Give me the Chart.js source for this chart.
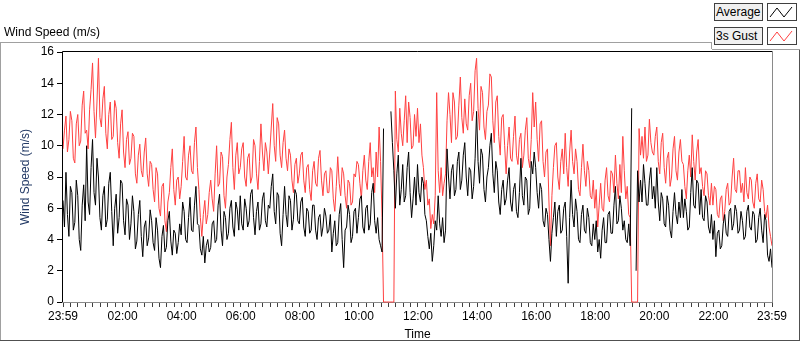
<!DOCTYPE html>
<html>
<head>
<meta charset="utf-8">
<script src="https://cdn.jsdelivr.net/npm/chart.js@4.4.0/dist/chart.umd.min.js"></script>
<style>
  body { margin: 0; background: #fff; }
  #wrap { position: relative; width: 800px; height: 342px; font-family: "Liberation Sans", Arial, sans-serif; font-size: 12px; color: #000; }
  #c { position: absolute; left: 0; top: 0; }
  .title { position: absolute; left: 4px; top: 25px; }
  .lbox { position: absolute; left: 714px; width: 46px; height: 16px; border: 1px solid #404040; background: #f0f0f0; line-height: 16px; padding-left: 1px; }
  .swatch { position: absolute; left: 767px; width: 28px; height: 16px; border: 1px solid #404040; background: #fff; }
  .swatch svg { display: block; }
</style>
</head>
<body>
<div id="wrap">
  <canvas id="c" width="800" height="342"></canvas>
  <div class="title">Wind Speed (m/s)</div>
  <div class="lbox" style="top:3px">Average</div>
  <div class="swatch" style="top:3px"><svg width="28" height="16"><polyline points="2,13 9,4 16,13 24,3" fill="none" stroke="#000" stroke-width="1"/></svg></div>
  <div class="lbox" style="top:27px">3s Gust</div>
  <div class="swatch" style="top:27px"><svg width="28" height="16"><polyline points="2,13 9,4 16,13 24,3" fill="none" stroke="#ff4040" stroke-width="1"/></svg></div>
</div>
<script>
// tick labels (time axis, minutes since 23:59 the day before)
const tickMinutes = [0, 121, 241, 361, 481, 601, 721, 841, 961, 1081, 1201, 1321, 1440];
const tickLabels = ['23:59', '02:00', '04:00', '06:00', '08:00', '10:00', '12:00', '14:00', '16:00', '18:00', '20:00', '22:00', '23:59'];
const stepMin = 3; // one sample every 3 minutes, one row = one hour

// average wind speed (m/s)
const average = [
  6.5, 4.8, 8.3, 5.6, 4.2, 7.4, 7.0, 4.6, 5.1, 7.8, 6.8, 4.0, 3.3, 6.2, 7.5, 5.2, 10.0, 6.4, 5.6, 8.6,
  10.4, 7.0, 6.2, 9.2, 8.0, 5.4, 4.6, 6.8, 7.4, 4.8, 5.3, 7.6, 8.3, 5.8, 3.6, 6.0, 6.9, 4.4, 5.4, 7.8,
  7.6, 5.2, 4.3, 6.6, 6.2, 4.0, 5.0, 6.8, 5.8, 3.4, 3.9, 5.6, 6.5, 4.2, 2.9, 4.8, 5.2, 3.6, 4.1, 5.9,
  5.2, 3.8, 3.3, 5.4, 4.6, 2.8, 2.2, 4.2, 4.9, 3.2, 3.5, 5.2, 5.8, 3.9, 3.0, 4.6, 4.4, 3.1, 3.8, 5.0,
  4.3, 6.4, 5.8, 4.0, 3.8, 5.4, 6.7, 4.6, 4.5, 6.2, 7.4, 5.0, 4.9, 3.4, 3.0, 4.2, 2.5, 3.6, 4.0, 3.2,
  3.5, 5.0, 5.2, 3.8, 4.0, 6.2, 6.9, 4.6, 3.6, 5.8, 5.4, 4.0, 4.4, 6.0, 6.5, 4.8, 4.2, 6.4, 5.9, 4.6,
  6.8, 5.0, 4.6, 6.6, 6.0, 4.8, 5.2, 6.9, 7.2, 5.4, 4.3, 5.8, 6.4, 4.6, 5.0, 6.6, 7.0, 5.2, 4.8, 6.2,
  6.0, 7.4, 8.2, 5.8, 5.0, 7.0, 6.8, 4.4, 3.6, 5.6, 7.4, 5.6, 4.8, 6.8, 6.5, 4.6, 5.3, 7.2, 6.9, 5.2,
  5.0, 6.4, 6.7, 4.8, 4.2, 6.0, 5.8, 4.4, 4.6, 6.2, 6.2, 4.6, 4.0, 5.4, 5.6, 4.2, 4.8, 6.0, 5.5, 4.4,
  4.6, 5.6, 3.2, 4.4, 5.2, 3.6, 3.8, 5.6, 6.3, 4.0, 2.2, 4.6, 4.8, 6.2, 5.6, 3.8, 4.2, 5.8, 6.0, 4.4,
  5.4, 6.6, 6.8, 4.8, 4.4, 6.0, 6.2, 4.6, 5.0, 7.0, 7.6, 5.2, 4.4, 5.4, 4.0, 3.6, 3.2, 11.1, null, null,
  null, null, 12.2, 10.2, 8.4, 6.0, 8.2, 9.4, 6.2, 7.2, 8.8, 6.4, 6.8, 8.6, 9.6, 7.0, 5.4, 6.6, 8.0, 6.2,
  8.8, 7.0, 6.4, 8.0, 7.6, 5.6, 5.2, 4.2, 3.4, 4.4, 2.6, 3.6, 5.2, 4.6, 6.8, 5.0, 4.2, 5.4, 3.8, 4.6,
  9.8, 8.0, 6.6, 8.4, 8.8, 6.8, 7.2, 9.0, 9.6, 7.2, 7.8, 9.4, 10.2, 8.0, 6.8, 8.6, 8.4, 6.6, 7.4, 9.2,
  12.2, 9.0, 7.6, 9.8, 9.4, 7.2, 6.4, 8.0, 8.6, 10.0, 10.8, 8.2, 7.0, 9.0, 8.4, 6.4, 5.6, 7.2, 7.8, 6.2,
  6.6, 7.8, 8.6, 6.4, 5.8, 7.2, 7.6, 5.8, 5.4, 7.0, 9.2, 6.8, 6.2, 8.0, 7.8, 5.6, 6.0, 9.0, 8.2, 9.6,
  8.6, 7.0, 6.0, 7.6, 7.2, 5.2, 4.8, 6.0, 5.6, 4.0, 2.6, 4.4, 5.4, 6.4, 4.2, 5.8, 6.2, 4.4, 4.6, 6.0,
  6.4, 4.2, 1.2, 5.4, 7.8, 5.6, 4.8, 6.6, 5.8, 4.0, 3.8, 5.6, 6.2, 4.6, 4.4, 6.0, 5.4, 3.8, 3.6, 5.0,
  4.0, 5.2, 3.2, 4.0, 2.8, 4.6, 5.4, 3.8, 3.8, 5.6, 5.8, 4.4, 4.4, 6.2, 7.4, 5.0, 5.2, 6.8, 6.0, 4.6,
  5.2, 4.0, 3.8, 5.0, 3.6, 12.4, null, null, 2.0, 8.4, 6.4, 7.8, 6.4, 8.8, 7.6, 6.2, 6.2, 7.8, 8.6, 6.6,
  7.4, 6.0, 8.6, 6.4, 5.2, 7.0, 6.6, 5.0, 4.8, 6.8, 6.2, 4.6, 4.1, 5.8, 7.0, 5.6, 5.0, 6.4, 5.4, 7.2,
  5.4, 6.6, 5.8, 4.6, 4.8, 7.0, 8.6, 6.2, 6.0, 7.8, 7.6, 5.6, 7.2, 5.4, 5.2, 6.8, 6.4, 4.8, 4.4, 5.6,
  4.0, 5.2, 2.9, 4.4, 4.6, 3.4, 3.6, 5.0, 5.6, 4.4, 4.2, 5.8, 6.0, 4.6, 5.0, 6.2, 5.8, 4.4, 4.6, 5.8,
  5.2, 4.0, 4.2, 5.8, 6.2, 4.8, 4.6, 5.8, 5.6, 3.8, 4.0, 5.4, 6.0, 4.6, 3.8, 5.6, 5.2, 3.0, 2.6, 3.4,
  2.2
];

// 3 second gust (m/s), 0 where the logger dropped out
const gust = [
  9.8, 11.0, 11.9, 9.6, 10.4, 12.2, 11.6, 9.2, 8.9, 11.4, 12.0, 10.0, 10.3, 12.6, 13.5, 10.8, 11.0, 9.8, 12.3, 13.6,
  15.3, 12.2, 10.5, 12.8, 15.6, 11.8, 11.2, 13.0, 13.8, 10.8, 9.8, 12.0, 12.8, 10.4, 10.6, 12.9, 12.4, 10.2, 9.2, 11.4,
  12.3, 9.6, 8.6, 10.4, 10.9, 8.8, 9.2, 10.8, 10.6, 8.2, 7.6, 9.4, 10.1, 8.4, 8.0, 9.6, 10.5, 8.2, 7.4, 9.0,
  8.8, 7.2, 6.4, 8.6, 8.2, 6.0, 5.5, 7.4, 7.6, 5.2, 4.5, 6.4, 7.0, 8.6, 9.8, 7.2, 6.2, 7.8, 8.0, 6.6,
  7.4, 9.0, 10.6, 8.0, 7.8, 9.4, 10.0, 8.4, 8.2, 10.2, 11.2, 8.6, 7.2, 5.4, 4.2, 5.6, 6.5, 5.0, 5.6, 7.0,
  7.8, 6.6, 5.8, 8.2, 10.0, 7.4, 7.6, 9.6, 9.3, 6.8, 6.0, 8.0, 8.8, 10.4, 11.5, 8.6, 7.2, 9.4, 10.2, 8.2,
  8.6, 9.8, 10.2, 8.0, 7.4, 9.2, 9.5, 7.6, 8.0, 10.4, 10.0, 8.2, 7.2, 9.0, 11.4, 9.6, 8.4, 10.2, 9.6, 8.2,
  9.6, 11.2, 12.7, 10.0, 9.0, 11.8, 11.4, 9.4, 8.6, 10.2, 11.0, 9.2, 8.4, 9.8, 9.4, 7.8, 7.0, 8.8, 9.2, 7.6,
  8.2, 9.4, 9.6, 7.8, 7.0, 8.6, 8.8, 7.2, 6.5, 8.4, 9.0, 7.6, 7.4, 9.2, 9.7, 7.8, 6.8, 8.2, 8.4, 7.0,
  7.0, 8.6, 8.4, 6.6, 5.8, 7.4, 9.3, 7.6, 6.8, 8.6, 8.2, 6.8, 6.0, 7.8, 7.6, 6.2, 6.4, 8.2, 8.0, 9.0,
  8.8, 7.6, 6.6, 8.4, 9.4, 7.8, 7.2, 9.0, 10.2, 8.0, 8.6, 7.0, 9.6, 8.0, 11.2, 9.0, 5.4, 0, 0, 0,
  0, 0, 0, 0, 0, 13.5, 10.4, 9.6, 12.4, 10.8, 10.0, 11.6, 13.2, 10.2, 12.8, 11.8, 9.8, 10.0, 12.0, 10.6,
  12.4, 10.2, 11.4, 9.4, 8.6, 7.2, 7.8, 6.2, 6.6, 4.7, 5.6, 5.0, 6.8, 13.4, 8.4, 7.0, 8.6, 6.8, 7.6, 8.2,
  11.6, 13.4, 12.0, 10.2, 13.4, 12.8, 10.4, 10.6, 12.6, 14.4, 11.8, 10.8, 13.0, 11.4, 11.0, 13.2, 14.0, 11.6, 12.2, 14.8,
  15.6, 12.4, 11.0, 13.8, 13.4, 11.2, 10.4, 12.2, 12.6, 14.6, 14.4, 11.6, 10.2, 12.8, 13.2, 10.6, 9.4, 11.8, 12.0, 10.0,
  8.2, 10.0, 11.2, 9.2, 9.0, 10.6, 11.9, 9.4, 8.8, 10.4, 10.8, 8.6, 9.4, 11.0, 11.8, 9.2, 8.6, 10.4, 13.4, 11.2,
  12.8, 10.4, 9.0, 11.4, 11.6, 9.0, 8.0, 9.6, 9.8, 6.4, 3.6, 6.8, 8.6, 10.0, 10.2, 8.0, 7.2, 9.0, 9.8, 8.2,
  10.8, 8.6, 7.4, 9.6, 11.0, 9.0, 8.2, 9.8, 9.0, 7.2, 6.8, 8.6, 10.1, 8.4, 7.4, 9.0, 8.4, 6.8, 6.6, 7.8,
  6.0, 7.2, 4.8, 6.2, 7.6, 6.0, 5.8, 7.8, 8.6, 6.8, 6.4, 8.4, 8.2, 7.0, 9.4, 7.6, 6.6, 8.8, 7.0, 10.6,
  8.4, 6.6, 7.4, 5.6, 5.4, 0, 0, 0, 0, 0, 11.1, 9.4, 10.6, 9.2, 11.2, 9.0, 9.4, 11.7, 10.2, 9.6,
  9.4, 10.6, 11.2, 9.0, 8.2, 10.2, 10.8, 8.6, 7.6, 9.2, 9.6, 7.4, 8.0, 9.8, 10.6, 8.4, 7.8, 9.6, 10.4, 9.0,
  8.8, 7.4, 6.6, 8.4, 9.4, 8.0, 10.7, 9.0, 7.8, 9.6, 10.4, 8.2, 8.6, 7.4, 6.8, 8.4, 8.2, 6.8, 6.2, 7.6,
  6.2, 7.4, 7.2, 5.6, 5.4, 6.6, 6.8, 5.2, 5.8, 7.2, 7.6, 6.2, 6.4, 8.0, 9.2, 7.2, 7.0, 8.4, 8.4, 7.0,
  7.6, 6.4, 8.6, 7.0, 6.6, 8.0, 7.8, 6.4, 6.0, 7.6, 8.2, 6.6, 6.4, 7.8, 7.2, 5.8, 5.4, 6.2, 4.8, 4.2,
  3.6
];

// minor ticks: 8 per major interval
const allTicks = [];
for (let i = 0; i < tickMinutes.length - 1; i++) {
  const a = tickMinutes[i], b = tickMinutes[i + 1];
  for (let k = 0; k < 8; k++) allTicks.push(a + (b - a) * k / 8);
}
allTicks.push(tickMinutes[tickMinutes.length - 1]);

const toPoints = arr => arr.map((v, i) => ({ x: i * stepMin, y: v }));

// panel frame and plot border
const frame = {
  id: 'frame',
  beforeDraw(chart) {
    const ctx = chart.ctx;
    ctx.save();
    ctx.lineWidth = 1;
    ctx.strokeStyle = '#a0a0a0';
    ctx.beginPath();
    ctx.moveTo(0, 42.5); ctx.lineTo(712, 42.5);
    ctx.moveTo(711.5, 42); ctx.lineTo(711.5, 49);
    ctx.moveTo(712, 49.5); ctx.lineTo(800, 49.5);
    ctx.moveTo(0.5, 42); ctx.lineTo(0.5, 341);
    ctx.stroke();
    ctx.strokeStyle = '#505050';
    ctx.beginPath();
    ctx.moveTo(0, 340.5); ctx.lineTo(800, 340.5);
    ctx.moveTo(799.5, 50); ctx.lineTo(799.5, 341);
    ctx.stroke();
    ctx.restore();
  },
  beforeDatasetsDraw(chart) {
    const { left, right, top, bottom } = chart.chartArea;
    const ctx = chart.ctx;
    ctx.save();
    ctx.lineWidth = 1;
    ctx.strokeStyle = '#000';
    ctx.beginPath();
    ctx.moveTo(left - 0.5, bottom); ctx.lineTo(left - 0.5, top - 0.5); ctx.lineTo(right, top - 0.5);
    ctx.stroke();
    ctx.strokeStyle = '#8a8a8a';
    ctx.beginPath();
    ctx.moveTo(right + 0.5, top - 1); ctx.lineTo(right + 0.5, bottom + 0.5); ctx.lineTo(left - 1, bottom + 0.5);
    ctx.stroke();
    ctx.restore();
  }
};

const font = { family: '"Liberation Sans", Arial, sans-serif', size: 12 };

new Chart(document.getElementById('c'), {
  type: 'line',
  data: {
    datasets: [
      { label: 'Average', data: toPoints(average), borderColor: '#000', borderWidth: 1, pointRadius: 0, spanGaps: false },
      { label: '3s Gust', data: toPoints(gust), borderColor: '#ff4040', borderWidth: 1, pointRadius: 0, spanGaps: false,
        clip: { left: 0, top: 0, right: 0, bottom: 1 } }
    ]
  },
  options: {
    responsive: false,
    animation: false,
    devicePixelRatio: 1,
    layout: { padding: { top: 52, right: 28, left: 0, bottom: 0 } },
    plugins: { legend: { display: false }, tooltip: { enabled: false } },
    scales: {
      x: {
        type: 'linear', min: 0, max: 1440,
        afterBuildTicks: s => { s.ticks = allTicks.map(v => ({ value: v })); },
        afterFit: s => { s.height = 40; },
        border: { display: false },
        grid: { drawOnChartArea: false, tickLength: 5, color: '#404040' },
        ticks: {
          autoSkip: false, maxRotation: 0, padding: 2, color: '#000', font: font,
          callback: v => { const i = tickMinutes.indexOf(v); return i >= 0 ? tickLabels[i] : ''; }
        },
        title: { display: true, text: 'Time', color: '#000', font: font, padding: { top: 0, bottom: 0 } }
      },
      y: {
        min: 0, max: 16,
        afterFit: s => { s.width = 63; },
        border: { display: false },
        grid: { drawOnChartArea: false, tickLength: 6, color: '#000' },
        ticks: { stepSize: 2, padding: 3, color: '#000', font: font },
        title: { display: true, text: 'Wind Speed (m/s)', color: '#233a66', font: font, padding: { top: 18, bottom: 0 } }
      }
    }
  },
  plugins: [frame]
});
</script>
</body>
</html>
